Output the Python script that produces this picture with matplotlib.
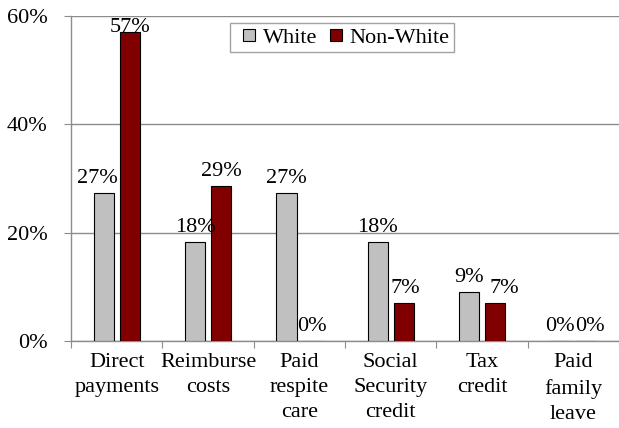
import matplotlib
matplotlib.use("Agg")
import matplotlib.pyplot as plt
from matplotlib.lines import Line2D
import numpy as np

categories = ["Direct\npayments", "Reimburse\ncosts", "Paid\nrespite\ncare",
              "Social\nSecurity\ncredit", "Tax\ncredit", "Paid\nfamily\nleave"]
white = [27.3, 18.2, 27.3, 18.2, 9.1, 0.0]
non_white = [57.1, 28.6, 0.0, 7.1, 7.1, 0.0]
series_names = ["White", "Non-White"]
series_colors = ["#C0C0C0", "#800000"]
y_ticks = [0, 20, 40, 60]

# small sideways nudges (pixels) that keep neighbouring value labels apart
white_nudge = [-6, 0, 0, 0, 0, 0]
non_white_nudge = [0, 0, 0, 2, 9, 4]

plt.rcParams["font.family"] = ["Liberation Serif", "DejaVu Serif"]
FS = 16

fig = plt.figure(figsize=(6.19, 4.28), dpi=100)
ax = fig.add_axes([0.115, 0.2033, 0.885, 0.7593])

x = np.arange(len(categories))
w = 0.22
off = 0.142
b1 = ax.bar(x - off, white, w, color=series_colors[0], edgecolor="black",
            linewidth=0.8, zorder=3)
b2 = ax.bar(x + off, non_white, w, color=series_colors[1], edgecolor="black",
            linewidth=0.8, zorder=3)

ymax = 60
gap = 1.85      # data units between bar top and label baseline
cap = 2.9       # room a label needs below the top of the plot
for bars, vals, nudges in ((b1, white, white_nudge), (b2, non_white, non_white_nudge)):
    for rect, v, dx in zip(bars, vals, nudges):
        y = min(v + gap, ymax - cap)
        ax.annotate(f"{v:.0f}%", (rect.get_x() + rect.get_width() / 2, y),
                    xytext=(dx * 0.72, 0), textcoords="offset points",
                    ha="center", va="baseline", fontsize=FS, zorder=4)

ax.set_xlim(-0.5, len(categories) - 0.5)
ax.set_ylim(0, ymax)
ax.set_yticks(y_ticks)
ax.set_yticklabels([f"{t}%" for t in y_ticks], fontsize=FS)
ax.yaxis.grid(True, color="#8c8c8c", linewidth=1.0, zorder=0)
ax.set_axisbelow(True)

# category boundaries carry the tick marks, labels sit at the centers
ax.set_xticks(np.arange(len(categories) + 1) - 0.5)
ax.set_xticklabels([])
ax.set_xticks(x, minor=True)
ax.set_xticklabels(categories, minor=True, fontsize=FS, linespacing=1.42)
ax.tick_params(axis="x", which="minor", length=0, pad=9)
ax.tick_params(axis="x", which="major", length=5, color="#8c8c8c", direction="out")
ax.tick_params(axis="y", length=5, color="#8c8c8c", pad=12)

for s in ("top", "right"):
    ax.spines[s].set_visible(False)
for s in ("left", "bottom"):
    ax.spines[s].set_color("#8c8c8c")
    ax.spines[s].set_linewidth(1.0)

handles = [Line2D([], [], linestyle="none", marker="s", markersize=9,
                  markerfacecolor=c, markeredgecolor="black", markeredgewidth=0.8)
           for c in series_colors]
leg = ax.legend(handles, series_names, loc="upper left", bbox_to_anchor=(0.29, 0.98),
                ncol=2, fontsize=FS, frameon=True, fancybox=False,
                handlelength=1.35, handletextpad=-0.07, columnspacing=0.15,
                borderpad=0.2, borderaxespad=0)
leg.get_frame().set_edgecolor("#8c8c8c")
leg.get_frame().set_linewidth(1.0)

fig.savefig("out.png", dpi=100)
